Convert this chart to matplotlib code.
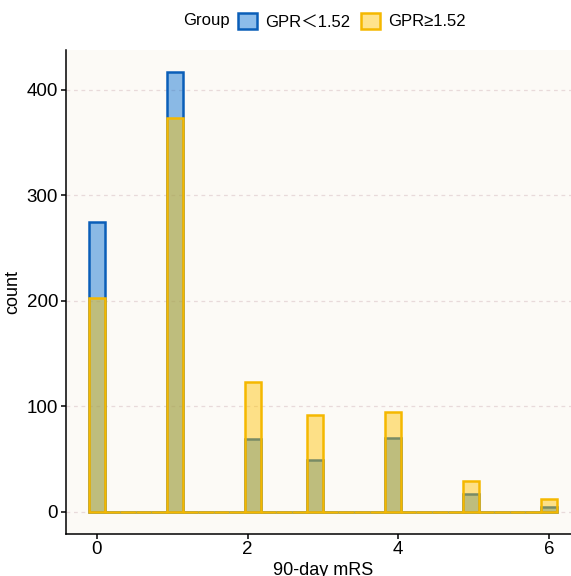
import numpy as np
import matplotlib
matplotlib.use('Agg')
import matplotlib.pyplot as plt
from matplotlib.patches import Patch

plt.rcParams['font.family'] = ['Liberation Sans', 'Noto Sans CJK SC', 'DejaVu Sans']

# 90-day mRS scores and counts per group
mrs = np.array([0, 1, 2, 3, 4, 5, 6])
count_low = np.array([275, 417, 69, 49, 70, 17, 4])      # GPR < 1.52
count_high = np.array([203, 373, 123, 92, 94, 29, 12])   # GPR >= 1.52
groups = ['GPR\uff1c1.52', 'GPR\u22651.52']
edge_cols = ['#0A5EB8', '#F5B800']
fill_cols = [(0.0, 0.42, 0.82, 0.45), (1.0, 0.76, 0.0, 0.45)]

# ggplot-style 30 bins over the data range, right-closed
nbins = 30
bw = (mrs.max() - mrs.min()) / (nbins - 1)
edges = mrs.min() - bw / 2 + bw * np.arange(nbins + 1)
centers = (edges[:-1] + edges[1:]) / 2
idx = np.searchsorted(edges, mrs - 1e-9, side='left') - 1
idx = np.clip(idx, 0, nbins - 1)
binned = centers[idx]

fig = plt.figure(figsize=(5.71, 5.76), dpi=100)
ax = fig.add_axes([65.7 / 571, 1 - 533.5 / 576, (580 - 65.7) / 571, (533.5 - 50) / 576])
ax.set_facecolor('#FCFAF6')

for cnt, ec, fc in zip([count_low, count_high], edge_cols, fill_cols):
    ax.hist(binned, bins=edges, weights=cnt, histtype='bar', rwidth=1.0,
            facecolor=fc, edgecolor=ec, linewidth=1.8, zorder=3)

# ggplot expansion of 5%
xr = edges[-1] - edges[0]
ax.set_xlim(edges[0] - 0.05 * xr, edges[-1] + 0.05 * xr)
ymax = max(count_low.max(), count_high.max())
ax.set_ylim(-0.05 * ymax, 1.05 * ymax)

ax.set_xticks([0, 2, 4, 6])
ax.set_yticks([0, 100, 200, 300, 400])
ax.yaxis.grid(True, color='#E8DADA', linestyle=(0, (3, 3)), linewidth=0.9, zorder=0)
ax.set_axisbelow(True)
for s in ['top', 'right']:
    ax.spines[s].set_visible(False)
for s in ['left', 'bottom']:
    ax.spines[s].set_linewidth(1.1)
    ax.spines[s].set_color('black')
ax.tick_params(axis='both', length=3.5, width=1.1, pad=2, labelsize=13.5, colors='black')
ax.set_xlabel('90-day mRS', fontsize=13, labelpad=3)
ax.set_ylabel('count', fontsize=13, labelpad=4)

fig.text(183 / 571, 1 - 21 / 576, 'Group', fontsize=12, ha='left', va='center')
handles = [Patch(facecolor=fc, edgecolor=ec, linewidth=1.8) for fc, ec in zip(fill_cols, edge_cols)]
fig.legend(handles, groups, loc='center', bbox_to_anchor=(352 / 571, 1 - 21 / 576),
           ncol=2, frameon=False, fontsize=12, handlelength=1.15, handleheight=1.15,
           handletextpad=0.5, columnspacing=0.6, borderpad=0)

fig.savefig('out.png', dpi=100, facecolor='white')
